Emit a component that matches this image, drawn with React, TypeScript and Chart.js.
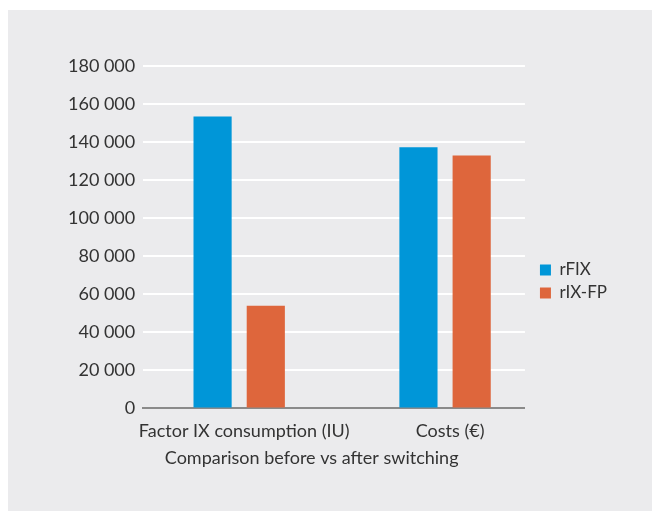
import React, { useEffect, useRef } from 'react';
import { Chart, registerables } from 'chart.js';

Chart.register(...registerables);

// Categories along the x axis and the two series
const categories = ['Factor IX consumption (IU)', 'Costs (€)'];
const seriesNames = ['rFIX', 'rIX-FP'];
const rFIX = [153500, 137300];
const rIXFP = [54000, 132900];
const xTitle = 'Comparison before vs after switching';

// Value axis
const yMin = 0;
const yMax = 180000;
const yStep = 20000;

const colors = ['#0096d8', '#de663c'];
const textColor = '#333333';
const FONT = 'Lato, "Open Sans", sans-serif';
const AXIS_FONT_SIZE = 18;

const formatThousands = (v: number) =>
  String(v).replace(/\B(?=(\d{3})+(?!\d))/g, ' ');

// Draws the x-axis title centred under the span of the category labels
const axisTitlePlugin = {
  id: 'axisTitleUnderLabels',
  afterDraw(chart: any) {
    const s = chart.scales.x;
    const ctx = chart.ctx;
    ctx.save();
    ctx.font = `${AXIS_FONT_SIZE}px ${FONT}`;
    const off = s.options.ticks.labelOffset || 0;
    let left = Infinity;
    let right = -Infinity;
    s.ticks.forEach((t: any, i: number) => {
      const label = categories[t.value] ?? '';
      const w = ctx.measureText(label).width;
      const px = s.getPixelForTick(i) + off;
      left = Math.min(left, px - w / 2);
      right = Math.max(right, px + w / 2);
    });
    ctx.fillStyle = textColor;
    ctx.textAlign = 'center';
    ctx.textBaseline = 'middle';
    ctx.fillText(xTitle, (left + right) / 2, s.bottom - 39);
    ctx.restore();
  },
};

export default function App() {
  const canvasRef = useRef<HTMLCanvasElement | null>(null);

  useEffect(() => {
    if (!canvasRef.current) return;
    const chart = new Chart(canvasRef.current, {
      type: 'bar',
      data: {
        datasets: [
          {
            label: seriesNames[0],
            data: rFIX.map((y, i) => ({ x: i, y })),
            backgroundColor: colors[0],
            borderWidth: 0,
          },
          {
            label: seriesNames[1],
            data: rIXFP.map((y, i) => ({ x: i, y })),
            backgroundColor: colors[1],
            borderWidth: 0,
          },
        ],
      },
      plugins: [axisTitlePlugin],
      options: {
        responsive: false,
        animation: false,
        devicePixelRatio: 1,
        categoryPercentage: 0.517,
        barPercentage: 0.717,
        layout: { padding: { top: 56, bottom: 14, left: 52, right: 41 } },
        plugins: {
          tooltip: { enabled: false },
          legend: {
            position: 'right',
            align: 'center',
            labels: {
              boxWidth: 11,
              boxHeight: 11,
              padding: 6,
              color: textColor,
              font: { family: FONT, size: 17 },
            },
          },
        },
        scales: {
          x: {
            type: 'linear',
            offset: false,
            min: -0.466,
            max: 1.388,
            afterBuildTicks: (scale: any) => {
              scale.ticks = categories.map((_, i) => ({ value: i }));
            },
            afterFit: (scale: any) => {
              scale.height += 43;
            },
            ticks: {
              callback: (v: any) => categories[v] ?? '',
              color: textColor,
              font: { family: FONT, size: AXIS_FONT_SIZE },
              padding: 12,
              labelOffset: 5,
              maxRotation: 0,
              autoSkip: false,
            },
            grid: { display: false, drawTicks: false, offset: false },
            border: { display: true, color: '#8a8a8a', width: 2 },
          },
          y: {
            min: yMin,
            max: yMax,
            ticks: {
              stepSize: yStep,
              callback: (v: any) => formatThousands(Number(v)),
              color: textColor,
              font: { family: FONT, size: AXIS_FONT_SIZE },
              padding: 8,
            },
            grid: {
              color: (c: any) => (c.tick && c.tick.value === 0 ? 'rgba(0,0,0,0)' : '#ffffff'),
              lineWidth: 2,
              drawTicks: false,
            },
            border: { display: false },
          },
          // spacer between the plot and the legend
          gap: {
            type: 'linear',
            position: 'right',
            display: true,
            ticks: { display: false },
            grid: { display: false, drawTicks: false },
            border: { display: false },
            afterFit: (scale: any) => {
              scale.width = 9;
            },
          },
        },
      } as any,
    });
    return () => chart.destroy();
  }, []);

  return (
    <div style={{ paddingTop: 2 }}>
      <div style={{ width: 650, height: 501, background: '#ebebed' }}>
        <canvas ref={canvasRef} width={650} height={501} style={{ display: 'block' }} />
      </div>
    </div>
  );
}
